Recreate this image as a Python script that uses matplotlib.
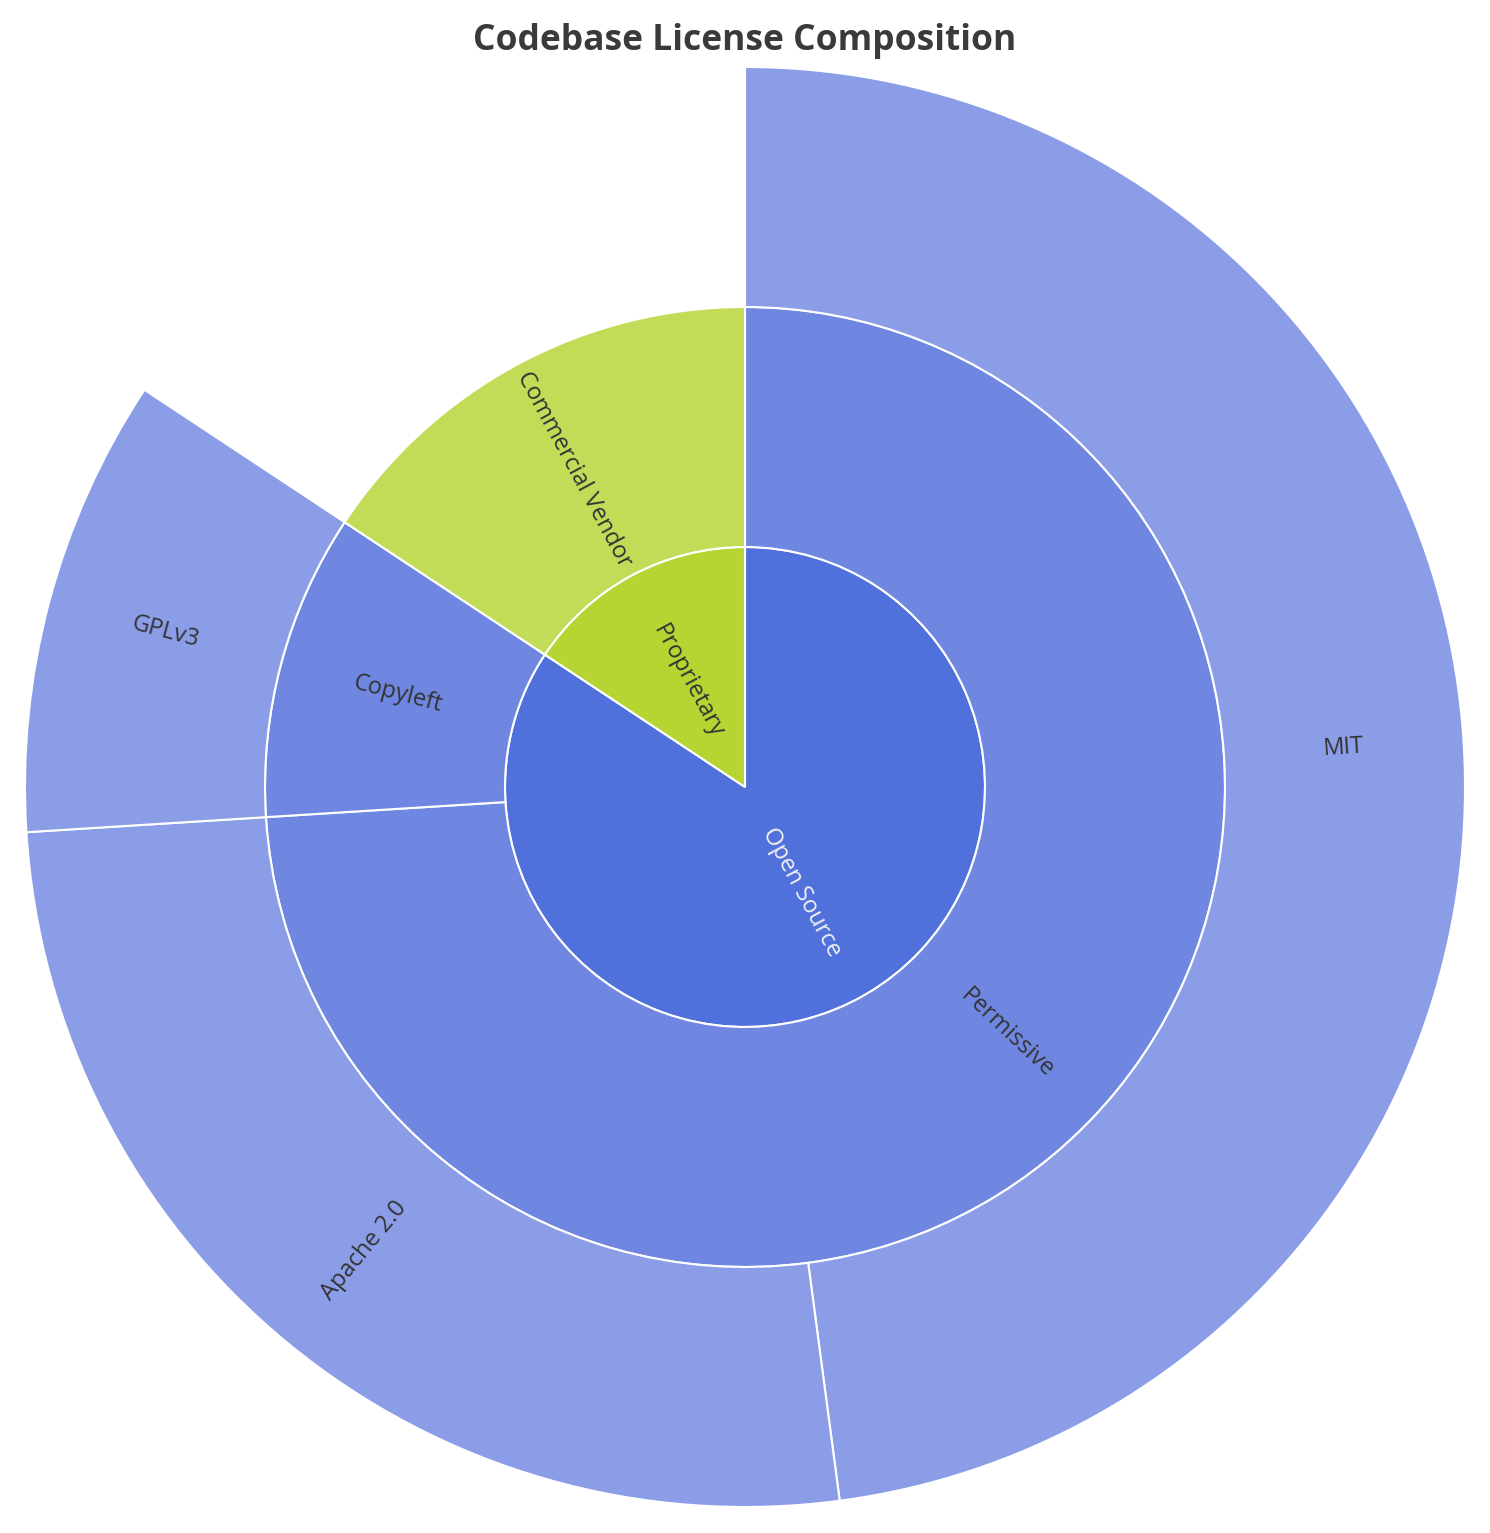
import numpy as np
import matplotlib
matplotlib.use("Agg")
import matplotlib.pyplot as plt

plt.rcParams['font.family'] = ['Open Sans', 'DejaVu Sans']

# leaf data (share of codebase, %)
leaf_labels = ["MIT", "Apache 2.0", "GPLv3", "Commercial Vendor"]
leaf_values = [47.9, 26.1, 10.3, 15.7]
leaf_parent = ["Permissive", "Permissive", "Copyleft", "Proprietary"]

mid_labels = ["Permissive", "Copyleft", "Commercial Vendor"]
mid_parent = ["Open Source", "Open Source", "Proprietary"]
top_labels = ["Open Source", "Proprietary"]

# colours
top_colors = {"Open Source": "#5070DB", "Proprietary": "#B6D532"}
mid_colors = {"Permissive": "#6F87E0", "Copyleft": "#6F87E0", "Commercial Vendor": "#C3DC58"}
leaf_colors = {"MIT": "#8B9DE7", "Apache 2.0": "#8B9DE7", "GPLv3": "#8B9DE7"}

# sums
mid_values = [sum(v for v, p in zip(leaf_values, leaf_parent) if p == m or (m == "Commercial Vendor" and p == "Proprietary"))
              for m in mid_labels]
top_values = [sum(v for v, p in zip(mid_values, mid_parent) if p == t) for t in top_labels]

W, H = 1490, 1533
fig = plt.figure(figsize=(W / 100, H / 100), dpi=100)
ax = fig.add_axes([0, 0, 1, 1])

cx, cy = 745, H - 787
r1, r2, r3 = 240, 480, 720
wp = dict(edgecolor="white", linewidth=1.5)

ax.pie(top_values, radius=r1, center=(cx, cy), startangle=90, counterclock=False,
       colors=[top_colors[t] for t in top_labels], wedgeprops=wp)
ax.pie(mid_values, radius=r2, center=(cx, cy), startangle=90, counterclock=False,
       colors=[mid_colors[m] for m in mid_labels], wedgeprops=dict(width=r2 - r1, **wp))
# outer ring: Commercial Vendor has no children -> leave empty
outer_vals = leaf_values[:3] + [leaf_values[3]]
outer_cols = [leaf_colors[l] for l in leaf_labels[:3]] + ["none"]
wedges, _ = ax.pie(outer_vals, radius=r3, center=(cx, cy), startangle=90, counterclock=False,
                   colors=outer_cols, wedgeprops=dict(width=r3 - r2, **wp))
wedges[-1].set_edgecolor("none")


def put_label(text, start, span, rin, rout, color):
    total = sum(leaf_values)
    bearing = (start + span / 2) / total * 360
    r = (rin + rout) / 2
    th = np.deg2rad(90 - bearing)
    x, y = cx + r * np.cos(th), cy + r * np.sin(th)
    rot = 90 - bearing
    while rot <= -90:
        rot += 180
    while rot > 90:
        rot -= 180
    ax.text(x, y, text, rotation=rot, rotation_mode="anchor", ha="center", va="center",
            fontsize=17, color=color)


s = 0
for t, v in zip(top_labels, top_values):
    put_label(t, s, v, 0, r1, "#F2F2F2" if t == "Open Source" else "#333333")
    s += v
s = 0
for m, v in zip(mid_labels, mid_values):
    put_label(m, s, v, r1, r2, "#333333")
    s += v
s = 0
for l, v in zip(leaf_labels[:3], leaf_values[:3]):
    put_label(l, s, v, r2, r3, "#333333")
    s += v

ax.set_xlim(0, W)
ax.set_ylim(0, H)
ax.set_aspect("equal")
ax.axis("off")

fig.text(0.5, 1 - 41 / H, "Codebase License Composition", ha="center", va="center",
         fontsize=25.5, fontweight="bold", color="#3A3A3A")

fig.savefig("out.png", dpi=100)
